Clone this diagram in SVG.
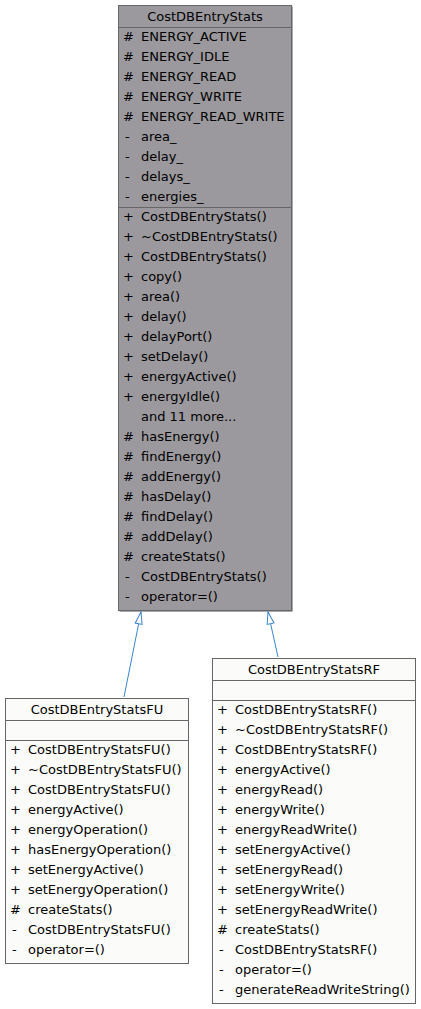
<svg xmlns="http://www.w3.org/2000/svg" width="421" height="1009" viewBox="0 0 421 1009">
  <style>
    .box { stroke: #666666; stroke-width: 1; }
    .base { fill: #9b999d; }
    .cls { fill: #fbfcfa; }
    .sep { stroke: #666666; stroke-width: 1; }
    text { font-family: "DejaVu Sans", sans-serif; font-size: 13px; fill: #000000; }
    .title { text-anchor: middle; }
    .edge { stroke: #3a84d0; stroke-width: 1; fill: none; }
  </style>
  <defs>
    <marker id="inherit" markerUnits="userSpaceOnUse" markerWidth="14" markerHeight="10" refX="12" refY="3.5" orient="auto" overflow="visible">
      <path d="M0,0 L12,3.5 L0,7 Z" fill="#ffffff" stroke="#3a84d0" stroke-width="1"/>
    </marker>
  </defs>
  <rect width="421" height="1009" fill="#ffffff"/>

  <!-- base class -->
  <g id="node-CostDBEntryStats">
    <rect x="119.5" y="6.5" width="173" height="605" fill="#555555"/>
    <rect class="box base" x="118.5" y="5.5" width="173" height="605"/>
    <line class="sep" x1="118.5" y1="27.5" x2="291.5" y2="27.5"/>
    <line class="sep" x1="118.5" y1="207.5" x2="291.5" y2="207.5"/>
    <text class="title" x="205" y="21">CostDBEntryStats</text>
    <text x="123" y="41">#</text><text x="141" y="41">ENERGY_ACTIVE</text>
    <text x="123" y="61">#</text><text x="141" y="61">ENERGY_IDLE</text>
    <text x="123" y="81">#</text><text x="141" y="81">ENERGY_READ</text>
    <text x="123" y="101">#</text><text x="141" y="101">ENERGY_WRITE</text>
    <text x="123" y="121">#</text><text x="141" y="121">ENERGY_READ_WRITE</text>
    <text x="125" y="141">-</text><text x="141" y="141">area_</text>
    <text x="125" y="161">-</text><text x="141" y="161">delay_</text>
    <text x="125" y="181">-</text><text x="141" y="181">delays_</text>
    <text x="125" y="201">-</text><text x="141" y="201">energies_</text>
    <text x="123" y="221">+</text><text x="141" y="221">CostDBEntryStats()</text>
    <text x="123" y="241">+</text><text x="141" y="241">~CostDBEntryStats()</text>
    <text x="123" y="261">+</text><text x="141" y="261">CostDBEntryStats()</text>
    <text x="123" y="281">+</text><text x="141" y="281">copy()</text>
    <text x="123" y="301">+</text><text x="141" y="301">area()</text>
    <text x="123" y="321">+</text><text x="141" y="321">delay()</text>
    <text x="123" y="341">+</text><text x="141" y="341">delayPort()</text>
    <text x="123" y="361">+</text><text x="141" y="361">setDelay()</text>
    <text x="123" y="381">+</text><text x="141" y="381">energyActive()</text>
    <text x="123" y="401">+</text><text x="141" y="401">energyIdle()</text>
    <text x="141" y="421">and 11 more...</text>
    <text x="123" y="441">#</text><text x="141" y="441">hasEnergy()</text>
    <text x="123" y="461">#</text><text x="141" y="461">findEnergy()</text>
    <text x="123" y="481">#</text><text x="141" y="481">addEnergy()</text>
    <text x="123" y="501">#</text><text x="141" y="501">hasDelay()</text>
    <text x="123" y="521">#</text><text x="141" y="521">findDelay()</text>
    <text x="123" y="541">#</text><text x="141" y="541">addDelay()</text>
    <text x="123" y="561">#</text><text x="141" y="561">createStats()</text>
    <text x="125" y="581">-</text><text x="141" y="581">CostDBEntryStats()</text>
    <text x="125" y="601">-</text><text x="141" y="601">operator=()</text>
  </g>

  <!-- FU subclass -->
  <g id="node-CostDBEntryStatsFU">
    <rect class="box cls" x="5.5" y="698.5" width="183" height="265"/>
    <line class="sep" x1="5.5" y1="720.5" x2="188.5" y2="720.5"/>
    <line class="sep" x1="5.5" y1="740.5" x2="188.5" y2="740.5"/>
    <text class="title" x="97" y="714">CostDBEntryStatsFU</text>
    <text x="10" y="754">+</text><text x="28" y="754">CostDBEntryStatsFU()</text>
    <text x="10" y="774">+</text><text x="28" y="774">~CostDBEntryStatsFU()</text>
    <text x="10" y="794">+</text><text x="28" y="794">CostDBEntryStatsFU()</text>
    <text x="10" y="814">+</text><text x="28" y="814">energyActive()</text>
    <text x="10" y="834">+</text><text x="28" y="834">energyOperation()</text>
    <text x="10" y="854">+</text><text x="28" y="854">hasEnergyOperation()</text>
    <text x="10" y="874">+</text><text x="28" y="874">setEnergyActive()</text>
    <text x="10" y="894">+</text><text x="28" y="894">setEnergyOperation()</text>
    <text x="10" y="914">#</text><text x="28" y="914">createStats()</text>
    <text x="12" y="934">-</text><text x="28" y="934">CostDBEntryStatsFU()</text>
    <text x="12" y="954">-</text><text x="28" y="954">operator=()</text>
  </g>

  <!-- RF subclass -->
  <g id="node-CostDBEntryStatsRF">
    <rect class="box cls" x="212.5" y="658.5" width="203" height="345"/>
    <line class="sep" x1="212.5" y1="680.5" x2="415.5" y2="680.5"/>
    <line class="sep" x1="212.5" y1="700.5" x2="415.5" y2="700.5"/>
    <text class="title" x="314" y="674">CostDBEntryStatsRF</text>
    <text x="217" y="714">+</text><text x="235" y="714">CostDBEntryStatsRF()</text>
    <text x="217" y="734">+</text><text x="235" y="734">~CostDBEntryStatsRF()</text>
    <text x="217" y="754">+</text><text x="235" y="754">CostDBEntryStatsRF()</text>
    <text x="217" y="774">+</text><text x="235" y="774">energyActive()</text>
    <text x="217" y="794">+</text><text x="235" y="794">energyRead()</text>
    <text x="217" y="814">+</text><text x="235" y="814">energyWrite()</text>
    <text x="217" y="834">+</text><text x="235" y="834">energyReadWrite()</text>
    <text x="217" y="854">+</text><text x="235" y="854">setEnergyActive()</text>
    <text x="217" y="874">+</text><text x="235" y="874">setEnergyRead()</text>
    <text x="217" y="894">+</text><text x="235" y="894">setEnergyWrite()</text>
    <text x="217" y="914">+</text><text x="235" y="914">setEnergyReadWrite()</text>
    <text x="217" y="934">#</text><text x="235" y="934">createStats()</text>
    <text x="219" y="954">-</text><text x="235" y="954">CostDBEntryStatsRF()</text>
    <text x="219" y="974">-</text><text x="235" y="974">operator=()</text>
    <text x="219" y="994">-</text><text x="235" y="994">generateReadWriteString()</text>
  </g>

  <!-- inheritance connectors -->
  <g id="edges">
    <path class="edge" d="M124,697 L141,612" marker-end="url(#inherit)"/>
    <path class="edge" d="M278,657 L268,612" marker-end="url(#inherit)"/>
  </g>
</svg>
